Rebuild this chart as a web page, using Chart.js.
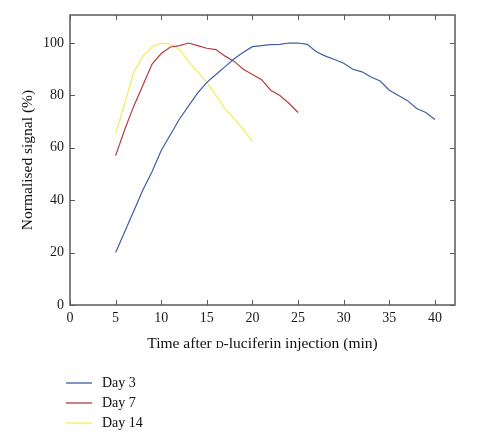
<!DOCTYPE html>
<html lang="en">
<head>
    <meta charset="UTF-8">
    <title>Normalised signal</title>
    <script src="https://cdn.jsdelivr.net/npm/chart.js"></script>
    <style>
body {
  margin: 0;
  background-color: #fff;
}
.wrap {
  width: 478px;
  height: 448px;
}
    </style>
</head>
<body>
    <div class="wrap">
        <canvas id="signalChart" width="478" height="448"></canvas>
    </div>

    <script>
// Values
const minutesDay3 = [5, 6, 7, 8, 9, 10, 11, 12, 13, 14, 15, 16, 17, 18, 19, 20, 21, 22, 23, 24, 25, 26, 27, 28, 29, 30, 31, 32, 33, 34, 35, 36, 37, 38, 39, 40];
const signalDay3 = [20, 28, 36, 44, 51, 59, 65, 71, 76, 81, 85, 88, 91, 94, 96.5, 98.6, 99, 99.4, 99.5, 100, 100, 99.5, 96.7, 95, 93.7, 92.3, 90, 89, 87, 85.5, 82, 80, 78, 75, 73.5, 70.8];

const minutesDay7 = [5, 6, 7, 8, 9, 10, 11, 12, 13, 14, 15, 16, 17, 18, 19, 20, 21, 22, 23, 24, 25];
const signalDay7 = [57, 67, 76, 84, 92, 96, 98.5, 99, 100, 99, 98, 97.5, 95, 93, 90, 88, 86, 82, 80, 77, 73.5];

const minutesDay14 = [5, 6, 7, 8, 9, 10, 11, 12, 13, 14, 15, 16, 17, 18, 19, 20];
const signalDay14 = [65.5, 77, 89, 95, 98.5, 100, 99.6, 97.5, 93, 89, 85, 80, 75, 71, 67, 62.5];

const xTicks = [0, 5, 10, 15, 20, 25, 30, 35, 40];
const yTicks = [0, 20, 40, 60, 80, 100];

// x title pieces: the D of D-luciferin is set in small capitals
const xTitleParts = [
    { text: 'Time after ', small: false },
    { text: 'D', small: true },
    { text: '-luciferin injection (min)', small: false }
];

const serif = "'Liberation Serif', 'DejaVu Serif', serif";
const frameColor = '#5a5a5a';

function toPoints(xs, ys) {
    return xs.map((x, i) => ({ x: x, y: ys[i] }));
}

// frame round the plot area, with ticks pointing inwards on all four sides
const framePlugin = {
    id: 'frame',
    afterDraw(chart) {
        const ctx = chart.ctx;
        const a = chart.chartArea;
        const xs = chart.scales.x;
        const ys = chart.scales.y;
        const len = 5;
        ctx.save();
        ctx.strokeStyle = frameColor;
        ctx.lineWidth = 1.5;
        ctx.strokeRect(a.left, a.top, a.right - a.left, a.bottom - a.top);
        ctx.lineWidth = 1;
        ctx.beginPath();
        xTicks.forEach(v => {
            const px = Math.round(xs.getPixelForValue(v)) + 0.5;
            ctx.moveTo(px, a.bottom);
            ctx.lineTo(px, a.bottom - len);
            ctx.moveTo(px, a.top);
            ctx.lineTo(px, a.top + len);
        });
        yTicks.forEach(v => {
            const py = Math.round(ys.getPixelForValue(v)) + 0.5;
            ctx.moveTo(a.left, py);
            ctx.lineTo(a.left + len, py);
            ctx.moveTo(a.right, py);
            ctx.lineTo(a.right - len, py);
        });
        ctx.stroke();
        ctx.restore();
    }
};

// x axis title with a small-capital D
const xTitlePlugin = {
    id: 'xTitle',
    afterDraw(chart) {
        const ctx = chart.ctx;
        const a = chart.chartArea;
        const big = '15.5px ' + serif;
        const small = '11px ' + serif;
        ctx.save();
        ctx.fillStyle = '#111';
        ctx.textBaseline = 'alphabetic';
        let total = 0;
        xTitleParts.forEach(p => {
            ctx.font = p.small ? small : big;
            total += ctx.measureText(p.text).width;
        });
        let x = (a.left + a.right) / 2 - total / 2;
        const y = a.bottom + 43;
        xTitleParts.forEach(p => {
            ctx.font = p.small ? small : big;
            ctx.fillText(p.text, x, y);
            x += ctx.measureText(p.text).width;
        });
        ctx.restore();
    }
};

// legend stacked vertically below the chart
const stackedLegend = {
    id: 'stackedLegend',
    afterDraw(chart) {
        const ctx = chart.ctx;
        ctx.save();
        ctx.font = '14px ' + serif;
        ctx.textBaseline = 'middle';
        chart.data.datasets.forEach((ds, i) => {
            const y = 383 + i * 20;
            ctx.strokeStyle = ds.borderColor;
            ctx.lineWidth = 1.3;
            ctx.beginPath();
            ctx.moveTo(66, y);
            ctx.lineTo(92, y);
            ctx.stroke();
            ctx.fillStyle = '#111';
            ctx.fillText(ds.label, 102, y);
        });
        ctx.restore();
    }
};

const ctx = document.getElementById('signalChart').getContext('2d');

const signalChart = new Chart(ctx, {
    type: 'line',
    data: {
        datasets: [{
            label: 'Day 3',
            data: toPoints(minutesDay3, signalDay3),
            borderColor: '#3f5da8',
            borderWidth: 1.2,
            pointRadius: 0,
            tension: 0
        }, {
            label: 'Day 7',
            data: toPoints(minutesDay7, signalDay7),
            borderColor: '#b53c42',
            borderWidth: 1.2,
            pointRadius: 0,
            tension: 0
        }, {
            label: 'Day 14',
            data: toPoints(minutesDay14, signalDay14),
            borderColor: '#f0ee5a',
            borderWidth: 1.2,
            pointRadius: 0,
            tension: 0
        }]
    },
    options: {
        responsive: false,
        animation: false,
        layout: {
            padding: { left: 0, top: 15, right: 23, bottom: 93 }
        },
        scales: {
            x: {
                type: 'linear',
                min: 0,
                max: 42.2,
                afterBuildTicks: scale => {
                    scale.ticks = xTicks.map(v => ({ value: v }));
                },
                afterFit: scale => {
                    scale.height = 50;
                },
                grid: { display: false, drawTicks: false },
                border: { display: false },
                ticks: {
                    padding: 5,
                    color: '#1a1a1a',
                    font: { family: serif, size: 14 }
                },
                title: { display: false }
            },
            y: {
                min: 0,
                max: 110.7,
                afterBuildTicks: scale => {
                    scale.ticks = yTicks.map(v => ({ value: v }));
                },
                afterFit: scale => {
                    scale.width = 70;
                },
                grid: { display: false, drawTicks: false },
                border: { display: false },
                ticks: {
                    padding: 6,
                    color: '#1a1a1a',
                    font: { family: serif, size: 14 }
                },
                title: {
                    display: true,
                    text: 'Normalised signal (%)',
                    color: '#111',
                    padding: { top: 19, bottom: 4 },
                    font: { family: serif, size: 15.5 }
                }
            }
        },
        plugins: {
            legend: { display: false },
            tooltip: { enabled: false }
        }
    },
    plugins: [framePlugin, xTitlePlugin, stackedLegend]
});
    </script>
</body>
</html>
